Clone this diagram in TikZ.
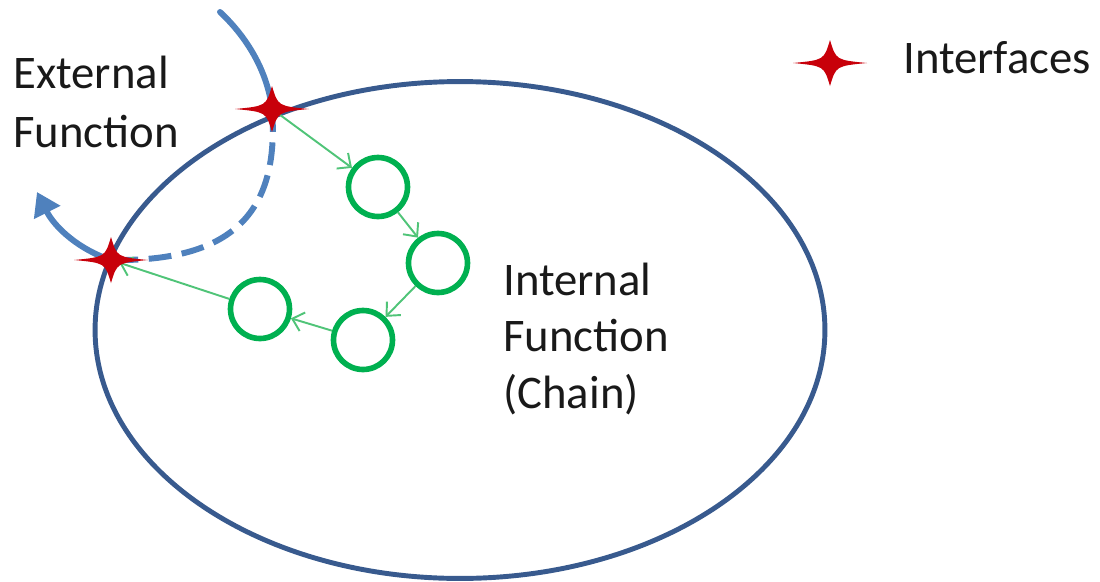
\documentclass[tikz,border=0pt]{standalone}
\usepackage{fontspec}
\setmainfont{Carlito}
\usetikzlibrary{arrows.meta,shapes.geometric}
\definecolor{rimblue}{RGB}{56,90,142}
\definecolor{flowblue}{RGB}{79,129,189}
\definecolor{ringgreen}{RGB}{0,176,80}
\definecolor{linkgreen}{RGB}{80,196,120}
\definecolor{sparkred}{RGB}{200,0,10}
\definecolor{ink}{RGB}{25,25,25}
\tikzset{
  rim/.style={draw=rimblue,line width=2.8pt,ellipse,inner sep=0pt,
    minimum width=14.6cm,minimum height=9.94cm},
  ring/.style={draw=ringgreen,line width=3.2pt,circle,inner sep=0pt,minimum size=1.18cm},
  link/.style={draw=linkgreen,line width=1.1pt,-{Straight Barb[length=6pt,width=11pt,line width=1.1pt]}},
  flow/.style={draw=flowblue,line width=3.4pt},
  flowdash/.style={flow,dash pattern=on 13pt off 6pt},
  label/.style={inner sep=0pt,anchor=base west,text=ink,align=left},
  spark/.pic={\fill[sparkred] (37,0) .. controls (6,3) .. (0,23)
     .. controls (-6,3) .. (-37,0) .. controls (-6,-3) .. (0,-23)
     .. controls (6,-3) .. cycle;}
}
\begin{document}
\begin{tikzpicture}[x=0.02cm,y=-0.02cm]
\useasboundingbox (0,0) rectangle (1100,582);
% system boundary
\node[rim] (sys) at (460,330) {};
% interface points
\coordinate (s1) at (272,109);
\coordinate (s2) at (111,260);
\coordinate (s0) at (830,63);
\coordinate (top) at (220,12);
\coordinate (out) at (37,192);
% external function flow
\draw[flow,line cap=round] (top) .. controls (250,40) and (268,75) .. (s1);
\draw[flowdash] (s1) .. controls (280,215) and (230,262) .. (s2);
\draw[flow,-{Triangle[length=13pt,width=16pt]}] (s2) .. controls (80,250) and (55,228) .. (out);
% internal chain
\node[ring] (c1) at (378,187) {};
\node[ring] (c2) at (438,263) {};
\node[ring] (c3) at (363,340) {};
\node[ring] (c4) at (260,309) {};
\draw[link] (s1) -- (c1);
\draw[link] (c1) -- (c2);
\draw[link] (c2) -- (c3);
\draw[link] (c3) -- (c4);
\draw[link,shorten >=5pt] (c4) -- (s2);
% interface markers
\pic at (s1) {spark};
\pic at (s2) {spark};
\pic at (s0) {spark};
% labels
\node[label,font=\fontsize{26.6}{33.4}\selectfont] (ext) at (13,147) {External\\Function};
\node[label,font=\fontsize{26.6}{32}\selectfont] (int) at (503,408) {Internal\\Function\\(Chain)};
\node[label,font=\fontsize{26.6}{32}\selectfont] (leg) at (903,73) {Interfaces};
\end{tikzpicture}
\end{document}
